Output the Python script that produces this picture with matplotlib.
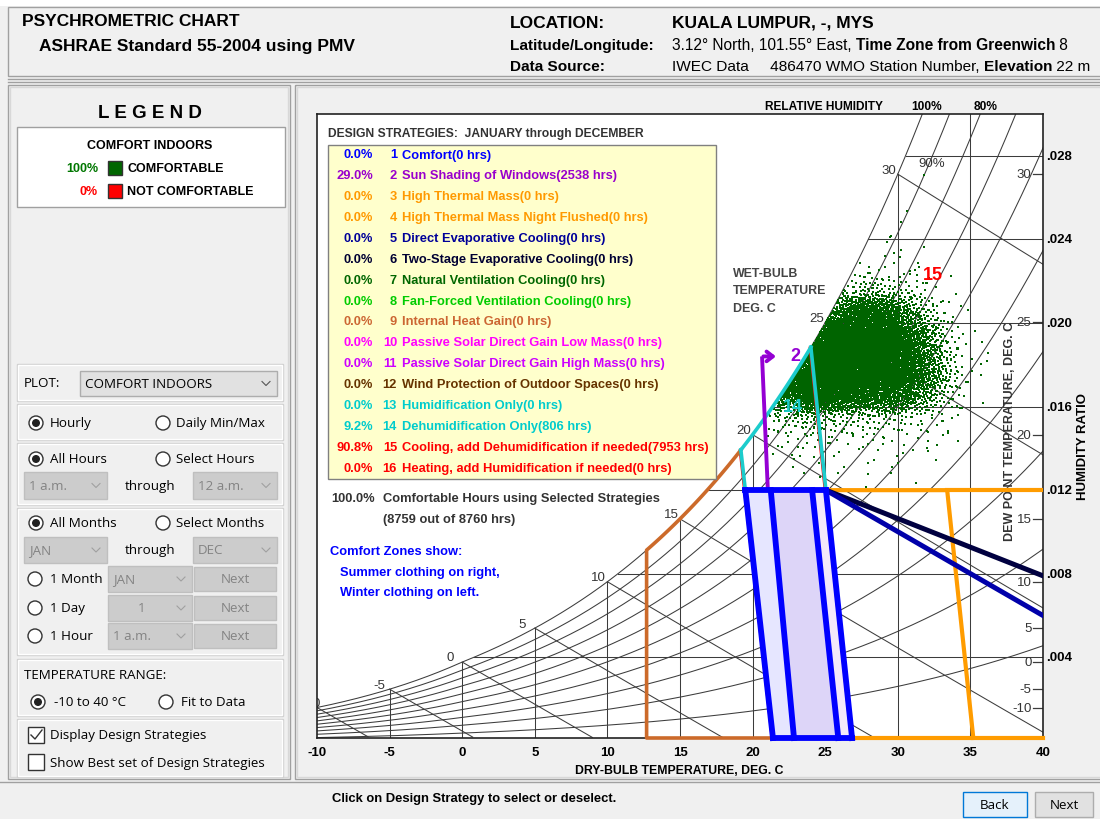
import numpy as np
import matplotlib
matplotlib.use('Agg')
import matplotlib.pyplot as plt
from matplotlib.patches import Rectangle, Circle, Polygon

plt.rcParams['font.family'] = ['Liberation Sans', 'DejaVu Sans']
UI_FONT = ['Open Sans', 'DejaVu Sans']
UI_SIZE = 9.6

# ---------------- data ----------------
db_ticks = [-10, -5, 0, 5, 10, 15, 20, 25, 30, 35, 40]
w_ticks = [0.004, 0.008, 0.012, 0.016, 0.020, 0.024, 0.028]
w_tick_labels = ['.004', '.008', '.012', '.016', '.020', '.024', '.028']
rh_levels = [0.1, 0.2, 0.3, 0.4, 0.5, 0.6, 0.7, 0.8, 0.9]
wb_temps = [-10, -5, 0, 5, 10, 15, 20, 25, 30]
dp_temps = [30, 25, 20, 15, 10, 5, 0, -5, -10]

strat_pct = ['0.0%', '29.0%', '0.0%', '0.0%', '0.0%', '0.0%', '0.0%', '0.0%',
             '0.0%', '0.0%', '0.0%', '0.0%', '0.0%', '9.2%', '90.8%', '0.0%']
strat_num = list(range(1, 17))
strat_name = ['Comfort(0 hrs)',
              'Sun Shading of Windows(2538 hrs)',
              'High Thermal Mass(0 hrs)',
              'High Thermal Mass Night Flushed(0 hrs)',
              'Direct Evaporative Cooling(0 hrs)',
              'Two-Stage Evaporative Cooling(0 hrs)',
              'Natural Ventilation Cooling(0 hrs)',
              'Fan-Forced Ventilation Cooling(0 hrs)',
              'Internal Heat Gain(0 hrs)',
              'Passive Solar Direct Gain Low Mass(0 hrs)',
              'Passive Solar Direct Gain High Mass(0 hrs)',
              'Wind Protection of Outdoor Spaces(0 hrs)',
              'Humidification Only(0 hrs)',
              'Dehumidification Only(806 hrs)',
              'Cooling, add Dehumidification if needed(7953 hrs)',
              'Heating, add Humidification if needed(0 hrs)']
strat_color = ['#0000ff', '#9900cc', '#ff9900', '#ff9900', '#000099', '#000033',
               '#006600', '#00cc00', '#cc6633', '#ff00ff', '#cc00ff', '#663300',
               '#00cccc', '#00cccc', '#ff0000', '#ff0000']

# comfort zones (dry-bulb at the bottom of the chart and at W = 0.012)
winter_db_bottom = [21.4, 25.9]
winter_db_top = [19.5, 24.1]
summer_db_bottom = [22.85, 26.85]
summer_db_top = [21.25, 25.05]
comfort_w_top = 0.012

heat_gain_db = 12.7                      # internal heat gain left edge
shading_db = [21.05, 20.65]              # sun shading marker line
shading_w = [0.012, 0.0184]
mass_db = [33.4, 35.2]                   # high thermal mass right edge (top, bottom)
evap_w_at_40 = [0.0060, 0.0079]          # direct / two-stage evaporative at 40 C

# hourly weather points, counted per 1 C x 0.001 cell
t_bins = [21, 22, 23, 24, 25, 26, 27, 28, 29, 30, 31, 32, 33, 34, 35]
w_bins = [0.012, 0.013, 0.014, 0.015, 0.016, 0.017, 0.018, 0.019, 0.020,
          0.021, 0.022, 0.023, 0.024, 0.025, 0.026]
hours = [
    [0, 0, 0, 1, 1, 0, 1, 0, 1, 0, 1, 0, 0, 0, 0],
    [0, 2, 3, 3, 3, 2, 2, 2, 2, 2, 1, 1, 0, 0, 0],
    [3, 6, 8, 8, 6, 5, 5, 5, 5, 4, 3, 3, 1, 1, 0],
    [10, 20, 26, 26, 21, 19, 16, 16, 15, 12, 10, 8, 4, 1, 0],
    [6, 95, 170, 190, 180, 160, 140, 130, 118, 95, 64, 36, 15, 5, 1],
    [0, 45, 210, 310, 310, 300, 280, 250, 225, 185, 120, 70, 25, 6, 2],
    [0, 0, 35, 270, 340, 340, 315, 275, 240, 185, 120, 60, 20, 5, 2],
    [0, 0, 0, 45, 265, 315, 295, 265, 210, 155, 92, 40, 11, 3, 1],
    [0, 0, 0, 0, 35, 128, 160, 148, 118, 72, 40, 15, 5, 1, 0],
    [0, 0, 0, 0, 0, 18, 28, 28, 22, 16, 9, 4, 2, 0, 0],
    [0, 0, 0, 0, 0, 2, 3, 4, 3, 3, 2, 1, 0, 0, 0],
    [0, 0, 0, 0, 0, 0, 0, 1, 2, 2, 1, 0, 0, 0, 0],
    [0, 0, 0, 0, 0, 0, 0, 0, 1, 1, 0, 0, 0, 0, 0],
    [0, 0, 0, 0, 0, 0, 0, 0, 0, 0, 1, 0, 0, 0, 0],
    [0, 0, 0, 0, 0, 0, 0, 0, 0, 0, 1, 0, 0, 0, 0],
]

# ---------------- psychrometrics ----------------
P = 101325.0


def p_sat(t):
    t = np.asarray(t, dtype=float)
    return np.where(t >= 0, 611.2 * np.exp(17.62 * t / (243.12 + t)),
                    611.2 * np.exp(22.46 * t / (272.62 + t)))


def w_sat(t, phi=1.0):
    e = phi * p_sat(t)
    return 0.622 * e / (P - e)


def w_wetbulb(t, twb):
    ws = w_sat(twb)
    return ((2501 - 2.326 * twb) * ws - 1.006 * (t - twb)) / (2501 + 1.86 * t - 4.186 * twb)


TT = np.linspace(-12, 45, 5701)
WW = w_sat(TT)


def dew_point(w):
    return np.interp(w, WW, TT)


W0, WTOP = 0.00014, 0.030
GRID = '#3c3c3c'

fig = plt.figure(figsize=(11, 8.2), dpi=100)

# ---------------- window background (pixel coordinates) ----------------
bg = fig.add_axes([0, 0, 1, 1], zorder=0)
bg.set_xlim(0, 1100)
bg.set_ylim(820, 0)
bg.axis('off')
bg.add_patch(Rectangle((0, 0), 1100, 820, fc='#f0f0f0', ec='none'))
bg.add_patch(Rectangle((0, 0), 1100, 7, fc='white', ec='none'))


def rect(a, x0, y0, x1, y1, fc='none', ec='#a0a0a0', lw=1.0, z=1):
    a.add_patch(Rectangle((x0, y0), x1 - x0, y1 - y0, fc=fc, ec=ec, lw=lw, zorder=z))


def txt(a, x, y, s, size=9, weight='normal', color='black', ha='left', va='center',
        family=None, **kw):
    return a.text(x, y, s, fontsize=size, fontweight=weight, color=color, ha=ha, va=va,
                  family=family if family else plt.rcParams['font.family'], **kw)


renderer = fig.canvas.get_renderer()


def runs(a, x, y, parts, size):
    for s, w in parts:
        t = txt(a, x, y, s, size=size, weight=w)
        x += t.get_window_extent(renderer=renderer).width


# header
rect(bg, 8, 8, 1104, 77, fc='#f0f0f0', ec='#a0a0a0')
bg.plot([8, 1100], [80, 80], color='#a0a0a0', lw=1)
bg.plot([8, 1100], [83, 83], color='#a0a0a0', lw=1)
txt(bg, 22, 22, 'PSYCHROMETRIC CHART', 12.5, 'bold')
txt(bg, 39, 46, 'ASHRAE Standard 55-2004 using PMV', 12.5, 'bold')
txt(bg, 510, 23, 'LOCATION:', 12.5, 'bold')
txt(bg, 672, 23, 'KUALA LUMPUR, -, MYS', 12.5, 'bold')
txt(bg, 510, 46, 'Latitude/Longitude:', 11.1, 'bold')
txt(bg, 510, 67, 'Data Source:', 11.1, 'bold')
runs(bg, 672, 46, [('3.12\u00b0 North, 101.55\u00b0 East, ', 'normal'),
                   ('Time Zone from Greenwich', 'bold'), (' 8', 'normal')], 11.2)
runs(bg, 672, 67, [('IWEC Data     486470 WMO Station Number, ', 'normal'),
                   ('Elevation', 'bold'), (' 22 m', 'normal')], 11.1)

# panels
rect(bg, 8, 86, 290, 780, ec='#a0a0a0')
rect(bg, 10, 88, 288, 778, ec='#d8d8d8')
rect(bg, 295, 86, 1104, 780, ec='#a0a0a0')
rect(bg, 297, 88, 1104, 778, ec='#d8d8d8')

# legend
txt(bg, 150, 114, 'L E G E N D', 13.5, 'bold', ha='center')
rect(bg, 17, 128, 285, 208, fc='white', ec='#a0a0a0')
txt(bg, 150, 146, 'COMFORT INDOORS', 9, 'bold', ha='center')
txt(bg, 98, 169, '100%', 9, 'bold', color='#007700', ha='right')
rect(bg, 108, 162, 122, 176, fc='#006600', ec='#333333', z=2)
txt(bg, 127, 169, 'COMFORTABLE', 9, 'bold')
txt(bg, 98, 192, '0%', 9, 'bold', color='#ff0000', ha='right')
rect(bg, 108, 185, 122, 199, fc='#ff0000', ec='#333333', z=2)
txt(bg, 127, 192, 'NOT COMFORTABLE', 9, 'bold')


def frame(y0, y1):
    rect(bg, 17, y0, 283, y1, ec='#d0d0d0')
    rect(bg, 18, y0 + 1, 282, y1 - 1, ec='white')


def radio(x, y, on):
    bg.add_patch(Circle((x, y), 7, fc='white', ec='#333333', lw=1, zorder=3))
    if on:
        bg.add_patch(Circle((x, y), 4, fc='#222222', ec='none', zorder=4))


def chevron(x, y, c):
    bg.plot([x - 4, x, x + 4], [y - 2, y + 2, y - 2], color=c, lw=0.8, zorder=4)


def combo(x0, y0, x1, y1, s, enabled=False, center=False):
    rect(bg, x0, y0, x1, y1, fc='#e1e1e1' if enabled else '#cccccc',
         ec='#adadad' if enabled else '#bfbfbf', z=2)
    c = 'black' if enabled else '#838383'
    if center:
        txt(bg, (x0 + x1) / 2 - 8, (y0 + y1) / 2, s, UI_SIZE, color=c, ha='center', family=UI_FONT, zorder=3)
    else:
        txt(bg, x0 + 5, (y0 + y1) / 2, s, UI_SIZE, color=c, family=UI_FONT, zorder=3)
    chevron(x1 - 11, (y0 + y1) / 2, '#555555' if enabled else '#a0a0a0')


def button(x0, y0, x1, y1, s):
    rect(bg, x0, y0, x1, y1, fc='#cccccc', ec='#bfbfbf', z=2)
    txt(bg, (x0 + x1) / 2, (y0 + y1) / 2, s, UI_SIZE, color='#838383', ha='center', family=UI_FONT, zorder=3)


frame(365, 402)
txt(bg, 24, 384, 'PLOT:', UI_SIZE, family=UI_FONT)
combo(80, 372, 277, 397, 'COMFORT INDOORS', enabled=True)

frame(405, 441)
radio(36, 424, True)
txt(bg, 50, 424, 'Hourly', UI_SIZE, family=UI_FONT)
radio(163, 424, False)
txt(bg, 176, 424, 'Daily Min/Max', UI_SIZE, family=UI_FONT)

frame(444, 506)
radio(36, 460, True)
txt(bg, 50, 460, 'All Hours', UI_SIZE, family=UI_FONT)
radio(163, 460, False)
txt(bg, 176, 460, 'Select Hours', UI_SIZE, family=UI_FONT)
combo(24, 473, 107, 500, '1 a.m.')
txt(bg, 150, 487, 'through', UI_SIZE, ha='center', family=UI_FONT)
combo(193, 473, 277, 500, '12 a.m.')

frame(509, 656)
radio(36, 524, True)
txt(bg, 50, 524, 'All Months', UI_SIZE, family=UI_FONT)
radio(163, 524, False)
txt(bg, 176, 524, 'Select Months', UI_SIZE, family=UI_FONT)
combo(24, 538, 107, 564, 'JAN')
txt(bg, 150, 551, 'through', UI_SIZE, ha='center', family=UI_FONT)
combo(193, 538, 277, 564, 'DEC')
for yy, lab, val in [(580, '1 Month', 'JAN'), (609, '1 Day', '1'), (637, '1 Hour', '1 a.m.')]:
    radio(35, yy, False)
    txt(bg, 50, yy, lab, UI_SIZE, family=UI_FONT)
    combo(108, yy - 13, 192, yy + 13, val, center=(val == '1'))
    button(194, yy - 12, 276, yy + 12, 'Next')

frame(660, 717)
txt(bg, 24, 676, 'TEMPERATURE RANGE:', UI_SIZE, family=UI_FONT)
radio(38, 703, True)
txt(bg, 54, 703, '-10 to 40 \u00b0C', UI_SIZE, family=UI_FONT)
radio(166, 703, False)
txt(bg, 181, 703, 'Fit to Data', UI_SIZE, family=UI_FONT)

frame(720, 778)
rect(bg, 28, 728, 44, 744, fc='white', ec='#333333', z=3)
bg.plot([31, 35, 42], [736, 740, 731], color='#333333', lw=1, zorder=4)
txt(bg, 50, 736, 'Display Design Strategies', UI_SIZE, family=UI_FONT)
rect(bg, 28, 755, 44, 771, fc='white', ec='#333333', z=3)
txt(bg, 50, 764, 'Show Best set of Design Strategies', UI_SIZE, family=UI_FONT)

# bottom bar
bg.plot([0, 1100], [783, 783], color='#a0a0a0', lw=1)
txt(bg, 332, 799, 'Click on Design Strategy to select or deselect.', 9.4, 'bold',
    family=['Liberation Sans Narrow', 'Liberation Sans'])
rect(bg, 963, 793, 1027, 818, fc='#e5f1fb', ec='#0078d7', z=2)
txt(bg, 995, 806, 'Back', UI_SIZE, ha='center', family=UI_FONT, zorder=3)
rect(bg, 1035, 793, 1093, 818, fc='#e1e1e1', ec='#adadad', z=2)
txt(bg, 1064, 806, 'Next', UI_SIZE, ha='center', family=UI_FONT, zorder=3)

# ---------------- psychrometric chart ----------------
L, R, TOP, BOT = 317, 1043, 115, 739
ax = fig.add_axes([L / 1100, 1 - BOT / 820, (R - L) / 1100, (BOT - TOP) / 820], zorder=1)
ax.set_facecolor('white')
ax.set_xlim(-10, 40)
ax.set_ylim(W0, WTOP)
for s in ax.spines.values():
    s.set_color('#222222')
    s.set_linewidth(1.2)
ax.set_xticks(db_ticks)
ax.set_xticklabels([str(v) for v in db_ticks], fontsize=9.5, fontweight='bold')
ax.tick_params(axis='x', length=0, pad=6)
ax.set_yticks([])

glw = 0.75
ax.plot(TT, WW, color=GRID, lw=glw, zorder=1)
for phi in rh_levels:
    ax.plot(TT, w_sat(TT, phi), color=GRID, lw=glw, zorder=1)
for t in db_ticks[1:-1]:
    ax.plot([t, t], [W0, min(float(w_sat(t)), WTOP)], color=GRID, lw=glw, zorder=1)
for w in w_ticks:
    ax.plot([dew_point(w), 40], [w, w], color=GRID, lw=glw, zorder=1)
for twb in wb_temps:
    tt = np.linspace(twb, 40, 300)
    ww = w_wetbulb(tt, twb)
    keep = ww >= W0
    ax.plot(tt[keep], ww[keep], color=GRID, lw=glw, zorder=1)
    ax.annotate(str(twb), (twb, float(w_sat(twb))), xytext=(-11.5, 3.3), textcoords='offset points',
                ha='left', va='center', fontsize=9.5, color='#333333', annotation_clip=False,
                clip_on=True, zorder=2)

# dew point scale inside the right edge
yx = ax.get_yaxis_transform()
for td in dp_temps:
    wd = float(w_sat(td))
    ax.plot([0.986, 1.0], [wd, wd], transform=yx, color=GRID, lw=0.9, zorder=2)
    ax.text(0.984, wd, str(td), transform=yx, ha='right', va='center', fontsize=9.5,
            color='#333333', zorder=2)
for w, lab in zip(w_ticks, w_tick_labels):
    ax.text(1.004, w, lab, transform=yx, ha='left', va='center', fontsize=9.5,
            fontweight='bold', clip_on=False)
ax.text((1010 - L) / (R - L), (BOT - 431) / (BOT - TOP), 'DEW POINT TEMPERATURE, DEG. C',
        transform=ax.transAxes, rotation=90, ha='center', va='center', fontsize=9,
        fontweight='bold', color='#333333', zorder=2)
ax.text((1083 - L) / (R - L), (BOT - 447) / (BOT - TOP), 'HUMIDITY RATIO',
        transform=ax.transAxes, rotation=90, ha='center', va='center', fontsize=9.5,
        fontweight='bold', clip_on=False)
ax.text(32.36, 0.02765, '90%', ha='center', va='center', fontsize=9.5, color='#333333', zorder=2)

# comfort zones fill
wz = [W0, comfort_w_top, comfort_w_top, W0]
ax.add_patch(Polygon(list(zip([winter_db_bottom[0], winter_db_top[0], winter_db_top[1], winter_db_bottom[1]], wz)),
                     fc='#e6e6ff', ec='none', zorder=2))
ax.add_patch(Polygon(list(zip([summer_db_bottom[0], summer_db_top[0], summer_db_top[1], summer_db_bottom[1]], wz)),
                     fc='#f3e8fa', ec='none', zorder=2))
ax.add_patch(Polygon(list(zip([summer_db_bottom[0], summer_db_top[0], winter_db_top[1], winter_db_bottom[1]], wz)),
                     fc='#ddd5f8', ec='none', zorder=2))


# hourly points: each cell's count is spread around the cell centre (triangular
# spread one cell wide) so the cloud has soft edges; points stay below saturation
def tri(u):
    return np.where(u < 0.5, -1 + np.sqrt(2 * u), 1 - np.sqrt(2 * (1 - u)))


pts_t, pts_w = [], []
k = 0
a1, a2 = 0.7548776662466927, 0.5698402909980532
for i, wl in enumerate(w_bins):
    for j, tl in enumerate(t_bins):
        n = hours[i][j]
        if n == 0:
            continue
        ks = np.arange(k + 1, k + n + 1)
        k += n
        u = (0.5 + a1 * ks) % 1.0
        v = (0.5 + a2 * ks) % 1.0
        t = tl + 0.5 + tri(u) * 1.0
        w = wl + 0.0005 + tri(v) * 0.001
        ws = w_sat(t) - 0.00004
        over = w > ws
        w = np.where(over, ws - (w - ws) * 0.6, w)
        pts_t.extend(t)
        pts_w.extend(w)
ax.scatter(pts_t, pts_w, s=2.6, marker='s', c='#006400', linewidths=0, zorder=3)


def line_db(db_bot, db_top, w):
    return db_bot + (db_top - db_bot) * (w - W0) / (comfort_w_top - W0)


def sat_cross(db_bot, db_top):
    ws = np.linspace(comfort_w_top, 0.025, 2000)
    d = w_sat(line_db(db_bot, db_top, ws)) - ws
    i = np.argmax(d < 0)
    return ws[i]


# high thermal mass (3, 4)
orange = '#ff9c00'
ax.plot([summer_db_top[1], mass_db[0], mass_db[1], summer_db_bottom[1]],
        [comfort_w_top, comfort_w_top, W0, W0], color=orange, lw=3, zorder=4, clip_on=False)
ax.plot([mass_db[0], 40], [comfort_w_top, comfort_w_top], color=orange, lw=3, zorder=4)
ax.plot([mass_db[1], 40], [W0, W0], color=orange, lw=3, zorder=4, clip_on=False)

# evaporative cooling (5, 6)
ax.plot([summer_db_top[1], 40], [comfort_w_top, evap_w_at_40[1]], color='#000040', lw=3.6, zorder=4)
ax.plot([summer_db_top[1], 40], [comfort_w_top, evap_w_at_40[0]], color='#0000aa', lw=3.6, zorder=4)

# internal heat gain (9)
w_left = sat_cross(winter_db_bottom[0], winter_db_top[0])
t_left = line_db(winter_db_bottom[0], winter_db_top[0], w_left)
ts = np.linspace(heat_gain_db, t_left, 60)
ax.plot(np.r_[winter_db_bottom[0], heat_gain_db, ts], np.r_[W0, W0, w_sat(ts)],
        color='#cc6a2a', lw=2.6, zorder=4, clip_on=False)

# dehumidification only (14)
w_right = sat_cross(summer_db_bottom[1], summer_db_top[1])
t_right = line_db(summer_db_bottom[1], summer_db_top[1], w_right)
ts = np.linspace(t_left, t_right, 60)
cyan = '#1ccccc'
ax.plot([winter_db_top[0], t_left], [comfort_w_top, w_left], color=cyan, lw=2.6, zorder=4)
ax.plot(ts, w_sat(ts), color=cyan, lw=2.6, zorder=4)
ax.plot([t_right, summer_db_top[1]], [w_right, comfort_w_top], color=cyan, lw=2.6, zorder=4)
# thin red outline of the cooling zone edge
ax.plot([winter_db_bottom[0] - 0.12, t_left - 0.12], [W0, w_left], color='#ff0000', lw=0.8, zorder=3.9)
ax.plot([summer_db_bottom[1] - 0.12, t_right - 0.12], [W0, w_right], color='#ff0000', lw=0.8, zorder=3.9)

# sun shading (2)
purple = '#9400d3'
ax.plot(shading_db, shading_w, color=purple, lw=2.8, zorder=4, solid_capstyle='butt')
ax.annotate('', xy=(shading_db[1] + 1.15, shading_w[1]), xytext=(shading_db[1] - 0.1, shading_w[1]),
            arrowprops=dict(arrowstyle='->,head_length=0.45,head_width=0.35', color=purple, lw=2.8),
            zorder=4)

# comfort zone outlines (1)
blue = '#0000ff'
for b, t in [(winter_db_bottom[0], winter_db_top[0]), (summer_db_bottom[0], summer_db_top[0]),
             (winter_db_bottom[1], winter_db_top[1]), (summer_db_bottom[1], summer_db_top[1])]:
    ax.plot([b, t], [W0, comfort_w_top], color=blue, lw=4.2, zorder=5, clip_on=False,
            solid_capstyle='projecting')
ax.plot([winter_db_top[0], summer_db_top[1]], [comfort_w_top, comfort_w_top], color=blue, lw=4.2, zorder=5)
ax.plot([winter_db_bottom[0], summer_db_bottom[1]], [W0, W0], color=blue, lw=4.2, zorder=5, clip_on=False)

# strategy numbers on the chart
ax.text(22.92, 0.01842, '2', color=purple, fontsize=13, fontweight='bold', ha='center', va='center', zorder=6)
ax.text(22.78, 0.01602, '14', color=cyan, fontsize=13, fontweight='bold', ha='center', va='center', zorder=6)
ax.text(32.42, 0.02234, '15', color='#ff0000', fontsize=13, fontweight='bold', ha='center', va='center', zorder=6)

# ---------------- overlay (pixel coordinates) ----------------
top = fig.add_axes([0, 0, 1, 1], zorder=2)
top.set_xlim(0, 1100)
top.set_ylim(820, 0)
top.axis('off')
top.patch.set_visible(False)

for yy, s in [(274, 'WET-BULB'), (291.5, 'TEMPERATURE'), (309, 'DEG. C')]:
    txt(top, 733, yy, s, 8.9, 'bold', color='#444444')

txt(top, 824, 107, 'RELATIVE HUMIDITY', 8.6, 'bold', ha='center')
txt(top, 927, 107, '100%', 8.6, 'bold', ha='center')
txt(top, 986, 107, '80%', 8.6, 'bold', ha='center')
txt(top, 679, 771, 'DRY-BULB TEMPERATURE, DEG. C', 8.8, 'bold', ha='center')

txt(top, 328, 134, 'DESIGN STRATEGIES:  JANUARY through DECEMBER', 8.75, 'bold', color='#333333')
rect(top, 328, 146, 716, 480, fc='#ffffcc', ec='#808080', z=3)
for i in range(len(strat_num)):
    y = 155.5 + i * 20.87
    c = strat_color[i]
    txt(top, 373, y, strat_pct[i], 9.3, 'bold', color=c, ha='right', zorder=4)
    txt(top, 397, y, str(strat_num[i]), 9.3, 'bold', color=c, ha='right', zorder=4)
    txt(top, 402, y, strat_name[i], 9.3, 'bold', color=c, zorder=4)

txt(top, 331, 499, '100.0%', 9.3, 'bold', color='#333333')
txt(top, 383, 499, 'Comfortable Hours using Selected Strategies', 9.3, 'bold', color='#333333')
txt(top, 383, 520, '(8759 out of 8760 hrs)', 9.3, 'bold', color='#333333')
txt(top, 330, 552, 'Comfort Zones show:', 9.3, 'bold', color='#0000ff')
txt(top, 340, 573, 'Summer clothing on right,', 9.3, 'bold', color='#0000ff')
txt(top, 340, 593, 'Winter clothing on left.', 9.3, 'bold', color='#0000ff')

fig.savefig('out.png', dpi=100)
